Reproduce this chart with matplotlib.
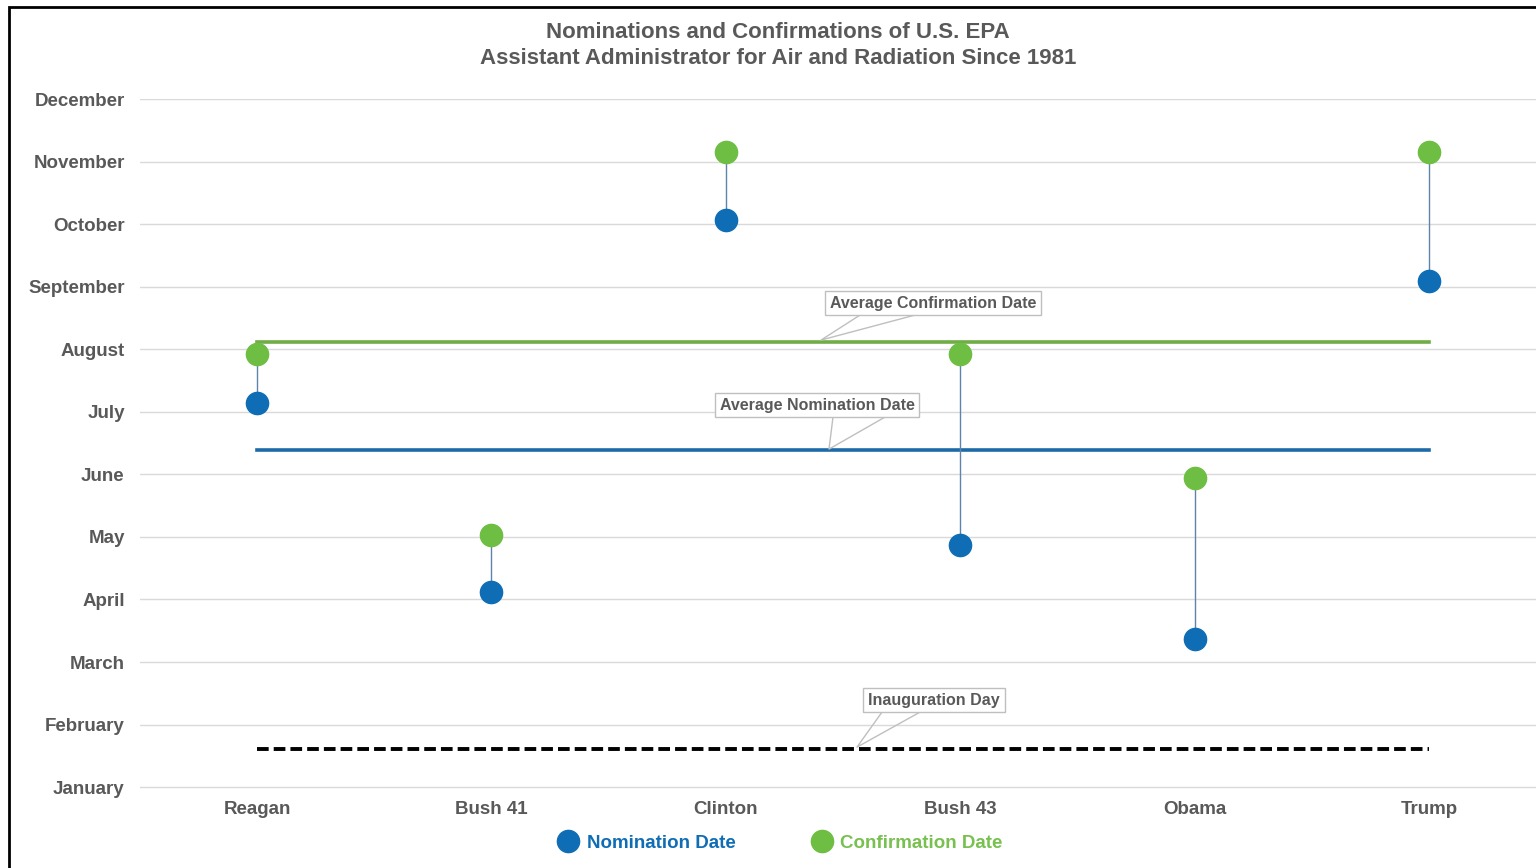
import matplotlib.pyplot as plt
from matplotlib.lines import Line2D
from matplotlib.patches import Rectangle

plt.rcParams['font.family'] = ['Liberation Sans', 'DejaVu Sans']

# data (months as fractional index, January = 0)
presidents = ['Reagan', 'Bush 41', 'Clinton', 'Bush 43', 'Obama', 'Trump']
months = ['January', 'February', 'March', 'April', 'May', 'June', 'July',
          'August', 'September', 'October', 'November', 'December']
nomination = [6.14, 3.12, 9.06, 3.87, 2.37, 8.09]
confirmation = [6.92, 4.03, 10.15, 6.92, 4.94, 10.15]
avg_nomination = 5.39
avg_confirmation = 7.11
inauguration = 0.61

blue = '#0f6db5'
green = '#6fbe44'
gray_txt = '#595959'

fig = plt.figure(figsize=(15.36, 8.68), dpi=100)
ax = fig.add_axes([140 / 1536, 79 / 868, 1406 / 1536, 690 / 868])

x = list(range(len(presidents)))

# connectors
for i in x:
    ax.plot([i, i], [nomination[i], confirmation[i]], color='#5f84ab', lw=1, zorder=3)

# reference lines
ax.plot([0, 5], [avg_confirmation] * 2, color='#70ad47', lw=2.6, zorder=2)
ax.plot([0, 5], [avg_nomination] * 2, color='#1d6aa8', lw=2.6, zorder=2)
ax.plot([0, 5], [inauguration] * 2, color='black', lw=2.8, dashes=[3, 1.3], zorder=2)

ax.plot(x, nomination, 'o', color=blue, ms=16, zorder=4)
ax.plot(x, confirmation, 'o', color=green, ms=16, zorder=4)

# callouts
def callout(text, tx, ty, base1, base2, tip):
    ax.text(tx, ty, text, ha='center', va='center', fontsize=11.5, color=gray_txt,
            fontweight='bold', zorder=6,
            bbox=dict(boxstyle='square,pad=0.3', fc='white', ec='#bfbfbf', lw=1))
    ax.plot([base1[0], tip[0], base2[0]], [base1[1], tip[1], base2[1]],
            color='#bfbfbf', lw=1, zorder=5)

def px(xp, yp):
    return ((xp - 257) / 234.4, (787 - yp) / 62.55)

cx, cy = px(933, 303)
callout('Average Confirmation Date', cx, cy, px(860, 315), px(915, 315), px(821, 340))
cx, cy = px(817, 405)
callout('Average Nomination Date', cx, cy, px(833, 417), px(885, 417), px(829, 449))
cx, cy = px(934, 700)
callout('Inauguration Day', cx, cy, px(882, 712), px(920, 712), px(857, 747))

ax.set_xlim(-0.5, 5.5)
ax.set_ylim(-0.03, 11)
ax.set_yticks(range(len(months)))
ax.set_yticklabels(months)
ax.set_xticks(x)
ax.set_xticklabels(presidents)
ax.tick_params(axis='y', length=0, pad=11, labelsize=13.5, labelcolor=gray_txt)
ax.tick_params(axis='x', length=0, pad=9, labelsize=13.5, labelcolor=gray_txt)
for lab in ax.get_xticklabels() + ax.get_yticklabels():
    lab.set_fontweight('bold')
ax.grid(axis='y', color='#d9d9d9', lw=1)
ax.set_axisbelow(True)
for s in ax.spines.values():
    s.set_visible(False)

fig.text(778 / 1536, 1 - 33 / 868, 'Nominations and Confirmations of U.S. EPA',
         ha='center', va='center', fontsize=16, color=gray_txt, fontweight='bold')
fig.text(778 / 1536, 1 - 59 / 868, 'Assistant Administrator for Air and Radiation Since 1981',
         ha='center', va='center', fontsize=16, color=gray_txt, fontweight='bold')

handles = [Line2D([], [], marker='o', ls='', color=blue, ms=16),
           Line2D([], [], marker='o', ls='', color=green, ms=16)]
leg = fig.legend(handles, ['Nomination Date', 'Confirmation Date'], loc='center',
                 bbox_to_anchor=(776 / 1536, 1 - 843 / 868), ncol=2, frameon=False,
                 handletextpad=0.0, columnspacing=3.6, prop={'size': 13.5, 'weight': 'bold'})
for t, c in zip(leg.get_texts(), [blue, '#78c04f']):
    t.set_color(c)

# outer frame (cropped on right and bottom)
fig.patches.append(Rectangle((9 / 1536, -0.1), 1.2, 1 - 7 / 868 + 0.1, transform=fig.transFigure,
                             fill=False, ec='black', lw=2))

fig.savefig('out.png', dpi=100)
